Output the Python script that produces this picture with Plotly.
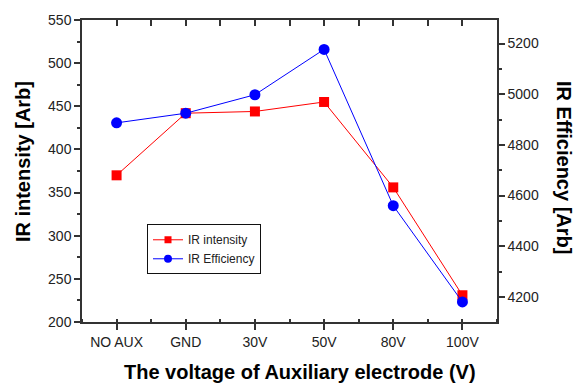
import plotly.graph_objects as go

categories = ["NO AUX", "GND", "30V", "50V", "80V", "100V"]
ir_intensity = [370, 442, 444, 455, 356, 231]
ir_efficiency = [4887, 4925, 4998, 5177, 4560, 4180]

xpos = list(range(len(categories)))
FONT = "Liberation Sans, Arial, sans-serif"
AX = "#333333"
RED, BLUE = "#ff0000", "#0000ff"

fig = go.Figure()
fig.add_trace(go.Scatter(x=xpos, y=ir_intensity, name="IR intensity", mode="lines+markers",
                         line=dict(color=RED, width=1), showlegend=False,
                         marker=dict(symbol="square", size=10, color=RED), yaxis="y"))
fig.add_trace(go.Scatter(x=xpos, y=ir_efficiency, name="IR Efficiency", mode="lines+markers",
                         line=dict(color=BLUE, width=1), showlegend=False,
                         marker=dict(symbol="circle", size=11, color=BLUE), yaxis="y2"))
# legend-only entries with smaller symbols
fig.add_trace(go.Scatter(x=[None], y=[None], name="IR intensity", mode="lines+markers",
                         line=dict(color=RED, width=1), marker=dict(symbol="square", size=7, color=RED)))
fig.add_trace(go.Scatter(x=[None], y=[None], name="IR Efficiency", mode="lines+markers",
                         line=dict(color=BLUE, width=1), marker=dict(symbol="circle", size=8, color=BLUE)))
# invisible trace to carry top axis
fig.add_trace(go.Scatter(x=xpos, y=ir_intensity, xaxis="x2", yaxis="y", mode="markers",
                         marker=dict(opacity=0), showlegend=False, hoverinfo="skip"))

W, H = 574, 385
pl, pr, pt, pb = 82, 77, 16, 63
pw, ph = W - pl - pr, H - pt - pb

def px(xp):
    return (xp - pl) / pw

def py(yp):
    return (H - pb - yp) / ph

fig.update_layout(
    width=W, height=H,
    margin=dict(l=pl, r=pr, t=pt, b=pb),
    plot_bgcolor="white", paper_bgcolor="white",
    font=dict(family=FONT, size=14, color="#222222"),
    xaxis=dict(range=[-0.5, 5.5], tickvals=xpos, ticktext=categories,
               showline=True, linecolor=AX, linewidth=1.5, showgrid=False, zeroline=False,
               ticks="outside", ticklen=6, tickwidth=1.5, tickcolor=AX,
               minor=dict(dtick=0.5, tick0=0.5, ticks="inside", ticklen=3, tickcolor=AX, tickwidth=1.5),
               tickfont=dict(size=14)),
    xaxis2=dict(range=[-0.5, 5.5], overlaying="x", side="top", matches="x",
                showline=True, linecolor=AX, linewidth=1.5, showgrid=False, zeroline=False,
                ticks="inside", ticklen=6, tickwidth=1.5, tickcolor=AX, dtick=0.5, tick0=0,
                showticklabels=False),
    yaxis=dict(range=[200, 550], dtick=50, showline=True, linecolor=AX, linewidth=1.5,
               showgrid=False, zeroline=False, ticks="outside", ticklen=6, tickwidth=1.5, tickcolor=AX,
               minor=dict(dtick=25, ticks="outside", ticklen=3, tickcolor=AX, tickwidth=1.5),
               tickfont=dict(size=14)),
    yaxis2=dict(range=[4101, 5293], overlaying="y", side="right", dtick=200, tick0=4200,
                showline=True, linecolor=AX, linewidth=1.5, showgrid=False, zeroline=False,
                ticks="outside", ticklen=6, tickwidth=1.5, tickcolor=AX,
                minor=dict(dtick=100, tick0=4100, ticks="outside", ticklen=3, tickcolor=AX, tickwidth=1.5),
                tickfont=dict(size=14)),
    legend=dict(x=px(147), y=py(223), xanchor="left", yanchor="top",
                bordercolor="#111111", borderwidth=1, bgcolor="white",
                font=dict(size=12, family=FONT, color="#222222"), tracegroupgap=0),
    showlegend=True,
)

fig.add_annotation(text="<b>IR intensity [Arb]</b>", x=px(23), y=py(160), xref="paper", yref="paper",
                   xanchor="center", yanchor="middle",
                   showarrow=False, textangle=-90, font=dict(size=20, color="black"))
fig.add_annotation(text="<b>IR Efficiency [Arb]</b>", x=px(564), y=py(165), xref="paper", yref="paper",
                   xanchor="center", yanchor="middle",
                   showarrow=False, textangle=90, font=dict(size=20, color="black"))
fig.add_annotation(text="<b>The voltage of Auxiliary electrode (V)</b>", x=px(300), y=py(373),
                   xref="paper", yref="paper", xanchor="center", yanchor="middle",
                   showarrow=False, font=dict(size=20, color="black"))

fig.write_html("out.html")
